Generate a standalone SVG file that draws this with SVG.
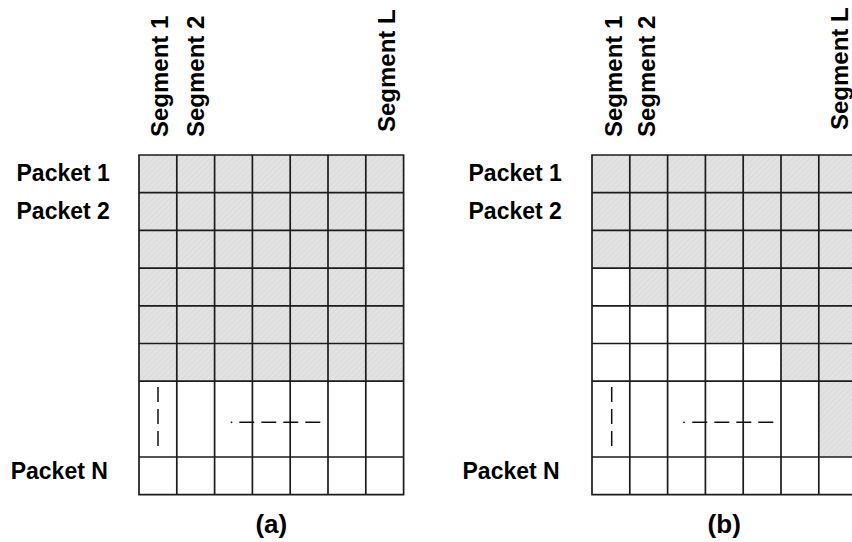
<svg xmlns="http://www.w3.org/2000/svg" width="852" height="542" viewBox="0 0 852 542">
<defs>
<pattern id="hatch" width="4" height="4" patternUnits="userSpaceOnUse" patternTransform="rotate(45)">
<rect width="4" height="4" fill="#e2e2e2"/>
<line x1="0" y1="0" x2="0" y2="4" stroke="#d2d2d2" stroke-width="1"/>
</pattern>
<style>
.lbl{font-family:"Liberation Sans",Arial,sans-serif;font-weight:bold;fill:#000;}
.seg{font-size:24px;}
.pk{font-size:23px;}
.cap{font-size:26px;text-anchor:middle;}
.grid{fill:none;stroke:#1c1c1c;stroke-width:1.7;}
.dash{fill:none;stroke:#111;stroke-width:1.5;stroke-dasharray:15 7;}
.dot{fill:#111;}
</style>
</defs>
<rect width="852" height="542" fill="#fff"/>

<g id="diagram-a">
<rect x="139" y="155" width="264.6" height="226.2" fill="url(#hatch)"/>
<path class="grid" d="M139 155H403.6V494.7H139Z M139 192.7H403.6 M139 230.4H403.6 M139 268.1H403.6 M139 305.8H403.6 M139 343.5H403.6 M139 381.2H403.6 M139 457H403.6 M176.8 155V494.7 M214.6 155V494.7 M252.4 155V494.7 M290.2 155V494.7 M328 155V494.7 M365.8 155V494.7"/>
<line class="dash" x1="158" y1="387" x2="158" y2="446"/>
<circle class="dot" cx="231.5" cy="422.3" r="0.9"/>
<line class="dash" x1="239.3" y1="422.3" x2="320.3" y2="422.3"/>
<text class="lbl seg" transform="translate(168,137) rotate(-90)">Segment 1</text>
<text class="lbl seg" transform="translate(204,137) rotate(-90)">Segment 2</text>
<text class="lbl seg" transform="translate(395,132) rotate(-90)">Segment L</text>
<text class="lbl pk" x="16.5" y="181">Packet 1</text>
<text class="lbl pk" x="16.5" y="219">Packet 2</text>
<text class="lbl pk" x="10.7" y="479">Packet N</text>
<text class="lbl cap" x="271.3" y="533">(a)</text>
</g>

<g id="diagram-b">
<path fill="url(#hatch)" d="M592 155H856.6V457H818.8V381.2H781V343.5H705.4V305.8H629.8V268.1H592Z"/>
<path class="grid" d="M592 155H856.6V494.7H592Z M592 192.7H856.6 M592 230.4H856.6 M592 268.1H856.6 M592 305.8H856.6 M592 343.5H856.6 M592 381.2H856.6 M592 457H856.6 M629.8 155V494.7 M667.6 155V494.7 M705.4 155V494.7 M743.2 155V494.7 M781 155V494.7 M818.8 155V494.7"/>
<line class="dash" x1="611.7" y1="387" x2="611.7" y2="446"/>
<circle class="dot" cx="684" cy="422.3" r="0.9"/>
<line class="dash" x1="692.3" y1="422.3" x2="773.3" y2="422.3"/>
<text class="lbl seg" transform="translate(622,137) rotate(-90)">Segment 1</text>
<text class="lbl seg" transform="translate(655,137) rotate(-90)">Segment 2</text>
<text class="lbl seg" transform="translate(847.5,130) rotate(-90)">Segment L</text>
<text class="lbl pk" x="468.5" y="181">Packet 1</text>
<text class="lbl pk" x="468.5" y="219">Packet 2</text>
<text class="lbl pk" x="462.5" y="479">Packet N</text>
<text class="lbl cap" x="724.2" y="533">(b)</text>
</g>
</svg>
